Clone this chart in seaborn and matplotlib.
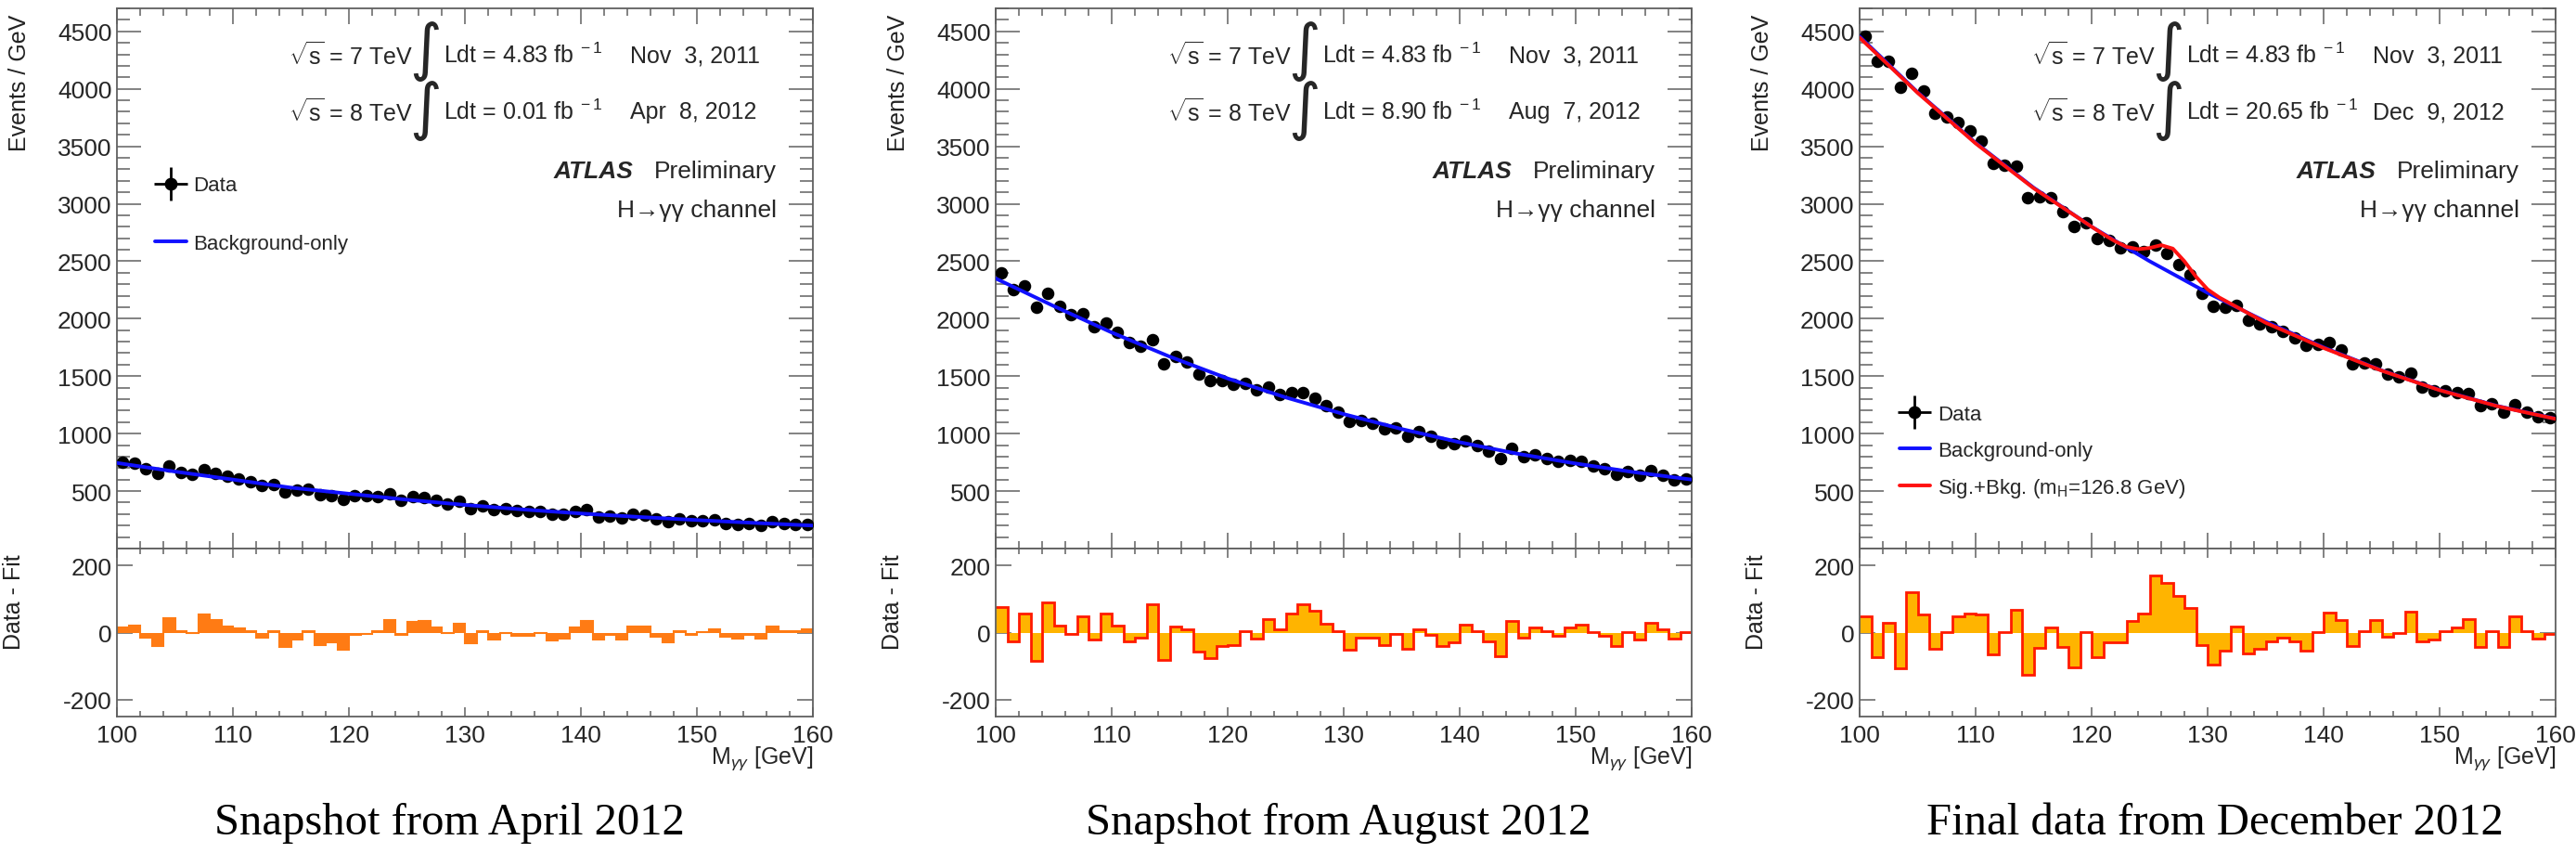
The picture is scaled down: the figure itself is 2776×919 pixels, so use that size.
import numpy as np
import matplotlib
matplotlib.use('Agg')
import matplotlib.pyplot as plt
from matplotlib.lines import Line2D
from matplotlib.legend_handler import HandlerTuple
from matplotlib.ticker import MultipleLocator
import seaborn as sns

## Binning (1 GeV bins between 100 and 160 GeV)
edges   = np.arange(100, 161, 1)
centers = edges[:-1] + 0.5

## Background-only fit, read at 5 GeV nodes
fit_x   = [100, 105, 110, 115, 120, 125, 130, 135, 140, 145, 150, 155, 160]
apr_fit = [745, 670, 600, 530, 477, 425, 380, 340, 305, 275, 248, 223, 200]
aug_fit = [2350, 2110, 1880, 1670, 1480, 1315, 1170, 1040, 925, 825, 740, 665, 600]
dec_fit = [4455, 3970, 3530, 3140, 2800, 2500, 2225, 1975, 1750, 1550, 1380, 1240, 1130]

## Signal + background fit (December only)
sig_x   = [100, 105, 110, 115, 120, 121, 122, 123, 124, 125, 126, 127, 128, 129, 130, 131,
           135, 140, 145, 150, 155, 160]
dec_sig = [4445, 3965, 3525, 3135, 2800, 2735, 2675, 2625, 2605, 2615, 2640, 2610, 2500, 2365,
           2255, 2185, 1965, 1745, 1548, 1378, 1238, 1128]

## Events / GeV
apr_data = [752, 742, 692, 653, 719, 666, 647, 688, 657, 626,
            605, 584, 551, 556, 494, 505, 519, 467, 463, 430,
            464, 458, 455, 477, 422, 451, 445, 416, 391, 409,
            344, 373, 340, 350, 333, 326, 327, 299, 297, 322,
            337, 276, 282, 264, 297, 291, 255, 231, 261, 243,
            246, 249, 222, 211, 217, 202, 234, 216, 210, 211]
aug_data = [2401, 2252, 2288, 2097, 2224, 2109, 2036, 2044, 1927, 1960,
            1881, 1791, 1759, 1818, 1610, 1668, 1624, 1517, 1461, 1460,
            1428, 1436, 1381, 1405, 1343, 1359, 1357, 1308, 1240, 1189,
            1107, 1115, 1089, 1042, 1050, 981, 1015, 975, 921, 909,
            938, 898, 848, 784, 869, 801, 814, 786, 756, 765,
            756, 720, 692, 649, 674, 637, 676, 642, 601, 609]
dec_data = [4455, 4238, 4242, 4010, 4138, 3981, 3790, 3752, 3710, 3632,
            3546, 3348, 3337, 3325, 3054, 3060, 3053, 2928, 2799, 2836,
            2696, 2680, 2620, 2624, 2588, 2644, 2566, 2471, 2381, 2217,
            2104, 2096, 2117, 1987, 1953, 1927, 1893, 1837, 1765, 1775,
            1789, 1727, 1611, 1615, 1606, 1520, 1498, 1528, 1405, 1375,
            1370, 1354, 1350, 1240, 1258, 1187, 1255, 1189, 1146, 1138]

## Data - Fit
apr_res = [14, 20, -15, -39, 42, 3, -2, 53, 36, 19,
           12, 5, -14, 5, -43, -20, 5, -36, -30, -52,
           -8, -3, 4, 36, -8, 31, 34, 14, -2, 25,
           -32, 5, -20, -2, -11, -10, -2, -23, -18, 14,
           35, -20, -8, -20, 19, 19, -12, -30, 5, -8,
           1, 9, -13, -19, -8, -19, 18, 5, 3, 9]
aug_res = [75, -26, 58, -85, 90, 22, -5, 49, -22, 57,
           22, -26, -16, 85, -81, 17, 11, -58, -76, -39,
           -36, 5, -17, 40, 11, 58, 85, 65, 26, 4,
           -50, -16, -16, -37, -3, -48, 9, -8, -39, -28,
           23, 3, -27, -71, 34, -16, 14, 3, -10, 16,
           23, 2, -11, -39, 1, -22, 30, 9, -19, 2]
dec_res = [48, -72, 29, -106, 119, 55, -48, 2, 48, 58,
           55, -65, 2, 68, -125, -46, 15, -42, -103, 2,
           -74, -30, -30, 34, 58, 171, 148, 108, 73, -36,
           -96, -54, 17, -63, -47, -26, -15, -26, -53, 2,
           59, 37, -39, 5, 36, -13, -1, 63, -26, -22,
           4, 16, 40, -42, 4, -42, 48, 4, -17, -3]

## Texts
lumi8    = ['0.01', '8.90', '20.65']
dates8   = ['Apr  8, 2012', 'Aug  7, 2012', 'Dec  9, 2012']
captions = ['Snapshot from April 2012', 'Snapshot from August 2012', 'Final data from December 2012']

## Style
sns.set_theme(style='ticks')
plt.rcParams['font.family'] = ['Liberation Sans', 'DejaVu Sans']
plt.rcParams['mathtext.fontset'] = 'custom'
plt.rcParams['mathtext.rm'] = 'Liberation Sans'
plt.rcParams['mathtext.it'] = 'Liberation Sans:italic'
plt.rcParams['mathtext.bf'] = 'Liberation Sans:bold'
plt.rcParams['axes.unicode_minus'] = False

W, H   = 2776., 920.
lefts  = [126, 1073, 2004]
width  = 750
frame  = '#606060'
fs_txt = 18
fs_tck = 19

fig = plt.figure(figsize=(W/100, H/100), dpi=100)

panels = [(apr_data, apr_fit, apr_res), (aug_data, aug_fit, aug_res), (dec_data, dec_fit, dec_res)]

for p in range(3):
    data, fit, res = panels[p]
    ax  = fig.add_axes([lefts[p]/W, (H-592)/H, width/W, 582/H])
    axr = fig.add_axes([lefts[p]/W, (H-773)/H, width/W, 181/H], sharex=ax)

    ## Main plot
    sns.scatterplot(x=centers, y=data, ax=ax, color='black', s=95, linewidth=0, zorder=3)
    sns.lineplot(x=fit_x, y=fit, ax=ax, color='#1010ff', lw=2.8, zorder=4)
    if p == 2:
        sns.lineplot(x=sig_x, y=dec_sig, ax=ax, color='#ff1010', lw=2.8, zorder=5)

    ax.set_xlim(100, 160)
    ax.set_ylim(0, 4700)
    ax.set_yticks(np.arange(0, 4501, 500))
    ax.set_yticklabels([''] + [str(v) for v in range(500, 4501, 500)])
    ax.yaxis.set_minor_locator(MultipleLocator(100))
    ax.xaxis.set_major_locator(MultipleLocator(10))
    ax.xaxis.set_minor_locator(MultipleLocator(2))
    ax.tick_params(axis='x', which='both', labelbottom=False)
    ax.tick_params(which='both', direction='in', top=True, right=True, color=frame, width=1.1)
    ax.tick_params(axis='y', which='major', length=19, labelsize=fs_tck, pad=4)
    ax.tick_params(axis='y', which='minor', length=10)
    ax.tick_params(axis='x', which='major', length=12)
    ax.tick_params(axis='x', which='minor', length=6)
    ax.set_xlabel('')
    ax.set_ylabel('')

    ## Residuals
    if p == 0:
        axr.stairs(res, edges, baseline=0, fill=True, color='#ff7b14', lw=0)
        axr.stairs(res, edges, baseline=None, color='#ff7b14', lw=1.5)
    else:
        axr.stairs(res, edges, baseline=0, fill=True, color='#ffb400', lw=0)
        axr.stairs(res, edges, baseline=None, color='#ff1a00', lw=2)
    axr.set_ylim(-250, 250)
    axr.set_yticks([-200, 0, 200])
    axr.set_xticks(np.arange(100, 161, 10))
    axr.set_xticklabels([str(v) for v in range(100, 161, 10)])
    axr.tick_params(which='both', direction='in', top=True, right=True, color=frame, width=1.1,
                    labelsize=fs_tck)
    axr.tick_params(axis='y', which='major', length=12, pad=4)
    axr.tick_params(axis='x', which='major', length=7, pad=6)
    axr.tick_params(axis='x', which='minor', length=4)

    for a in (ax, axr):
        for sp in a.spines.values():
            sp.set_color(frame)
            sp.set_linewidth(1.3)

    ## Axis titles
    ax.text(-0.14, 0.99, 'Events / GeV', transform=ax.transAxes, rotation=90,
            ha='center', va='top', fontsize=fs_txt, color='#222222')
    axr.text(-0.148, 0.97, 'Data - Fit', transform=axr.transAxes, rotation=90,
             ha='center', va='top', fontsize=fs_txt, color='#222222')
    axr.text(1.0, -0.245, r'M$_{\gamma\gamma}$ [GeV]', transform=axr.transAxes,
             ha='right', va='center', fontsize=fs_txt)

    ## Luminosity block
    tr = ax.transAxes
    ax.text(0.247, 0.914, r'$\sqrt{\mathrm{s}}$ = 7 TeV', transform=tr, ha='left', va='center', fontsize=fs_txt)
    ax.text(0.247, 0.809, r'$\sqrt{\mathrm{s}}$ = 8 TeV', transform=tr, ha='left', va='center', fontsize=fs_txt)
    ax.text(0.443, 0.922, '\u222b', transform=tr, ha='center', va='center', fontsize=48,
            family=['DejaVu Sans'])
    ax.text(0.443, 0.812, '\u222b', transform=tr, ha='center', va='center', fontsize=48,
            family=['DejaVu Sans'])
    ax.text(0.469, 0.914, r'Ldt = 4.83 fb$^{\ -1}$', transform=tr, ha='left', va='center', fontsize=fs_txt)
    ax.text(0.469, 0.809, r'Ldt = ' + lumi8[p] + r' fb$^{\ -1}$', transform=tr, ha='left', va='center',
            fontsize=fs_txt)
    ax.text(0.737, 0.914, 'Nov  3, 2011', transform=tr, ha='left', va='center', fontsize=fs_txt)
    ax.text(0.737, 0.809, dates8[p], transform=tr, ha='left', va='center', fontsize=fs_txt)
    ax.text(0.627, 0.699, 'ATLAS', transform=tr, ha='left', va='center', fontsize=fs_txt + 1,
            weight='bold', style='italic')
    ax.text(0.948, 0.699, 'Preliminary', transform=tr, ha='right', va='center', fontsize=fs_txt + 1)
    ax.text(0.948, 0.627, 'H\u2192\u03b3\u03b3 channel', transform=tr, ha='right', va='center',
            fontsize=fs_txt + 1)

    ## Legends
    data_h = (Line2D([], [], ls='none', marker='o', ms=9, color='black'),
              Line2D([], [], ls='none', marker='+', ms=26, mew=2, color='black'))
    bkg_h  = Line2D([], [], color='#1010ff', lw=2.8)
    sig_h  = Line2D([], [], color='#ff1010', lw=2.8)
    if p == 0:
        ax.legend([data_h, bkg_h], ['Data', 'Background-only'], loc='upper left',
                  bbox_to_anchor=(0.055, 0.69), frameon=False, fontsize=16, handlelength=1.5,
                  handletextpad=0.35, labelspacing=1.85, borderpad=0, borderaxespad=0,
                  handler_map={tuple: HandlerTuple(ndivide=1, pad=0)})
    elif p == 2:
        ax.legend([data_h, bkg_h, sig_h], ['Data', 'Background-only', r'Sig.+Bkg. (m$_{\mathrm{H}}$=126.8 GeV)'],
                  loc='upper left', bbox_to_anchor=(0.057, 0.266), frameon=False, fontsize=16,
                  handlelength=1.5, handletextpad=0.35, labelspacing=0.78, borderpad=0, borderaxespad=0,
                  handler_map={tuple: HandlerTuple(ndivide=1, pad=0)})

## Captions
cap_x = [484, 1442, 2387]
for p in range(3):
    fig.text(cap_x[p]/W, (H-887)/H, captions[p], ha='center', va='center', fontsize=35,
             family='Liberation Serif', color='black')

fig.savefig('out.png', dpi=100, facecolor='white')
